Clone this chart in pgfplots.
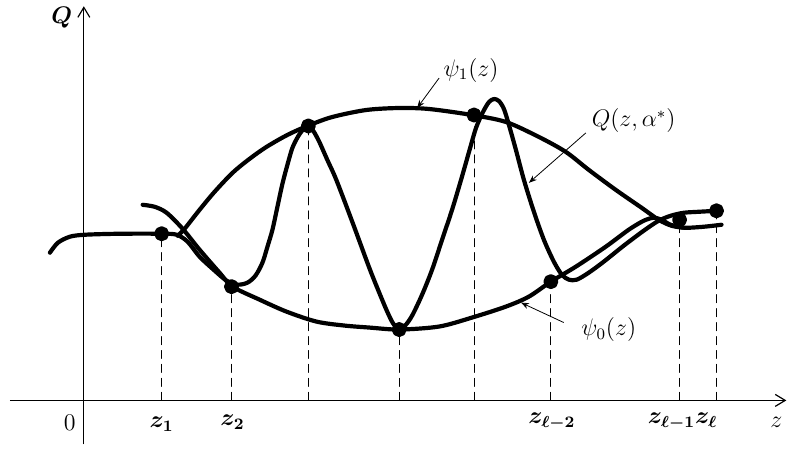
\documentclass[border=0pt]{standalone}
\usepackage{pgfplots}
\pgfplotsset{compat=1.18}
\usepackage{amsmath}
\usetikzlibrary{arrows.meta}

\tikzset{
  ptr/.style={-{Stealth[length=4pt,width=3pt]}, line width=0.4pt},
  axarrow/.style={-{Straight Barb[length=5pt,width=6pt]}},
}

\begin{document}
\begin{tikzpicture}
\begin{axis}[
  x=0.5pt, y=0.5pt,
  xmin=-74, xmax=704, ymin=-44, ymax=395,
  axis lines=middle,
  axis line style={line width=0.6pt, axarrow},
  xtick=\empty, ytick=\empty,
  clip=false,
  every axis plot/.append style={line width=2.1pt, line join=round, line cap=round},
]
% keep the full page area
\path (axis cs:-84,-53) rectangle (axis cs:705,401);

% Q(z, alpha*)
\addplot[black, smooth, tension=0.5] coordinates {
(-34,148) (-26,158) (-14,164) (1,166) (36,167) (78,167) (93,166) (104,159)
(116,144) (130,131) (143,120) (154,116) (164,118) (172,125) (179,138) (184,154)
(189,171) (194,194) (199,217) (204,236) (209,253) (215,265) (221,273) (225,275)
(230,270) (236,259) (244,241) (253,221) (269,179) (286,133) (296,108) (304,89)
(310,77) (316,71) (322,75) (329,85) (339,106) (349,131) (359,161) (369,191)
(378,221) (386,249) (393,273) (400,289) (406,299) (411,302) (416,300) (421,292)
(426,276) (433,251) (441,221) (451,189) (461,161) (471,139) (479,126) (486,121)
(494,121) (506,128) (521,139) (541,155) (561,170) (576,180) (588,185) (601,188)
(616,189) (634,190)
};

% psi_0(z)
\addplot[black, smooth, tension=0.5] coordinates {
(59,196) (71,194) (83,188) (99,172) (116,151) (136,128) (149,114) (176,101)
(203,89) (233,79) (261,75) (286,73) (316,71) (356,74) (389,83) (423,94)
(446,104) (468,119) (493,134) (523,154) (546,171) (561,180) (571,183) (579,181)
(588,176) (601,173)
};

% psi_1(z)
\addplot[black, smooth, tension=0.5] coordinates {
(94,165) (101,172) (116,191) (131,209) (149,228) (166,242) (183,254) (204,266)
(224,275) (249,284) (283,291) (316,293) (346,292) (389,286) (423,279) (456,264)
(483,249) (506,231) (533,211) (559,193) (576,181) (589,175) (603,173) (621,174)
(639,176)
};

% drop lines from the sample points
\addplot[ycomb, black, line width=0.5pt, dash pattern=on 4pt off 3pt, mark=none] coordinates {
(78,167) (148,114) (225,275) (316,71) (391,286) (468,119) (597,181) (634,190)
};

% sample points
\addplot[only marks, mark=*, mark size=2.7pt, black] coordinates {
(78,167) (148,114) (225,275) (316,71) (391,286) (468,119) (597,181) (634,190)
};

% axis labels
\node[font=\large] at (axis cs:-14,-22) {$0$};
\node[font=\large] at (axis cs:-22,384) {$\boldsymbol{Q}$};
\node[font=\large] at (axis cs:694,-22) {$z$};
\node[font=\large\boldmath] at (axis cs:78,-24) {$z_1$};
\node[font=\large\boldmath] at (axis cs:149,-22) {$z_2$};
\node[font=\large\boldmath] at (axis cs:469,-21) {$z_{\ell-2}$};
\node[font=\large\boldmath] at (axis cs:600,-21) {$z_{\ell-1}z_{\ell}$};

% curve labels with pointers
\node[font=\large] at (axis cs:388,331) {$\psi_1(z)$};
\draw[ptr] (axis cs:356,323) -- (axis cs:334,293);
\node[font=\large] at (axis cs:551,280) {$Q(z,\alpha^{*})$};
\draw[ptr] (axis cs:503,268) -- (axis cs:446,218);
\node[font=\large] at (axis cs:526,71) {$\psi_0(z)$};
\draw[ptr] (axis cs:481,78) -- (axis cs:438,98);
\end{axis}
\end{tikzpicture}
\end{document}
